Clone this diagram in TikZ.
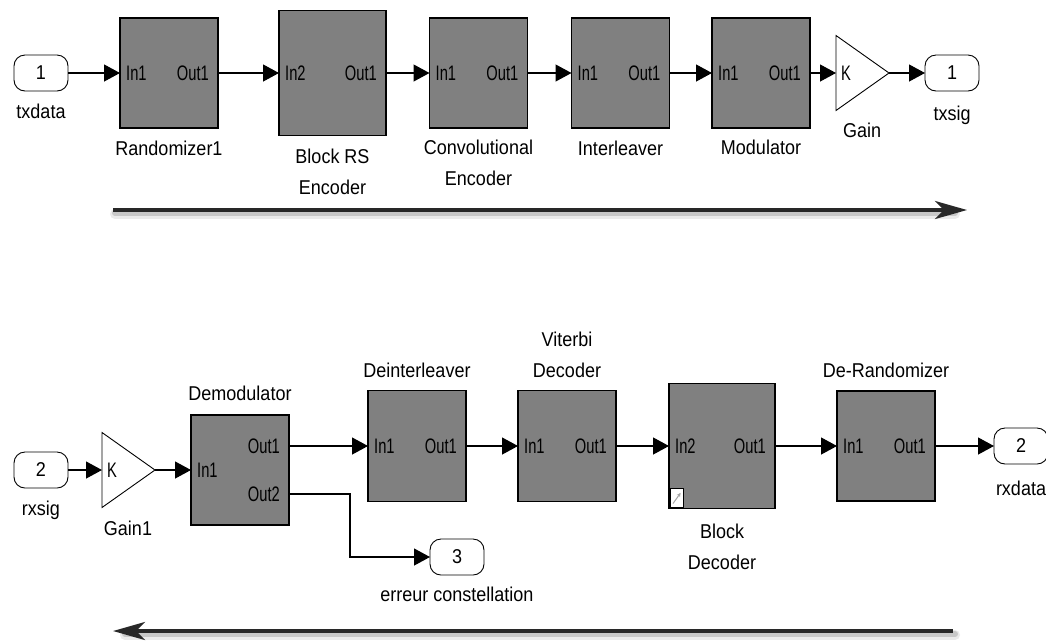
\documentclass[tikz,border=0pt]{standalone}
\usepackage{fontspec}
\setmainfont{Liberation Sans}
\newfontfamily\slimsans[FakeStretch=0.7]{Liberation Sans}
\newfontfamily\labsans[FakeStretch=0.9]{Liberation Sans}
\usetikzlibrary{positioning, arrows.meta, calc, shapes.geometric}
\definecolor{blockfill}{RGB}{128,128,128}
\definecolor{flowdark}{RGB}{40,40,40}
\definecolor{flowshade}{RGB}{200,200,200}

\begin{document}
\begin{tikzpicture}[x=1pt, y=-1pt,
  blk/.style={draw, line width=1.3pt, fill=blockfill, minimum width=98pt, minimum height=110pt, inner sep=0pt, outer sep=0pt},
  port/.style={draw, line width=0.9pt, fill=white, rounded corners=11pt, minimum width=54pt, minimum height=36pt, inner sep=0pt, outer sep=0pt, font=\labsans\fontsize{20}{22}\selectfont},
  gain/.style={draw, line width=0.9pt, fill=white, isosceles triangle, isosceles triangle stretches, minimum width=75pt, minimum height=53pt, inner sep=0pt, outer sep=0pt, anchor=west},
  pin/.style={font=\slimsans\fontsize{21}{22}\selectfont, inner sep=0pt},
  lab/.style={font=\labsans\fontsize{20}{31}\selectfont, align=center, inner sep=0pt},
  wire/.style={line width=1.2pt, -{Triangle[length=16pt, width=17pt]}},
  flow/.style={line width=3.8pt, draw=flowdark, -{Stealth[length=32pt, width=18pt, inset=9pt]}},
  flowsh/.style={draw=flowshade, line cap=round}]
\fill[white] (0,0) rectangle (1046,641);
\useasboundingbox (0,0) rectangle (1046,641);

% transmitter chain
\node[port] (txin) at (41,73) {1};
\node[lab, below=13pt of txin] (txinlab) {txdata};
\node[blk] (rand) at (169,73) {};
\node[pin, anchor=west] (randi) at ([xshift=6pt]rand.west) {In1};
\node[pin, anchor=east] (rando) at ([xshift=-9pt]rand.east) {Out1};
\node[lab, below=13pt of rand] (randlab) {Randomizer1};
\node[blk, minimum width=107pt, minimum height=125pt] (rsenc) at (332.5,73) {};
\node[pin, anchor=west] (rsenci) at ([xshift=6pt]rsenc.west) {In2};
\node[pin, anchor=east] (rsenco) at ([xshift=-9pt]rsenc.east) {Out1};
\node[lab, below=13pt of rsenc] (rsenclab) {Block RS\\Encoder};
\node[blk] (conv) at (478.5,73) {};
\node[pin, anchor=west] (convi) at ([xshift=6pt]conv.west) {In1};
\node[pin, anchor=east] (convo) at ([xshift=-9pt]conv.east) {Out1};
\node[lab, below=12pt of conv] (convlab) {Convolutional\\Encoder};
\node[blk] (intl) at (620.5,73) {};
\node[pin, anchor=west] (intli) at ([xshift=6pt]intl.west) {In1};
\node[pin, anchor=east] (intlo) at ([xshift=-9pt]intl.east) {Out1};
\node[lab, below=13pt of intl] (intllab) {Interleaver};
\node[blk] (mod) at (761,73) {};
\node[pin, anchor=west] (modi) at ([xshift=6pt]mod.west) {In1};
\node[pin, anchor=east] (modo) at ([xshift=-9pt]mod.east) {Out1};
\node[lab, below=12pt of mod] (modlab) {Modulator};
\node[gain] (gtx) at (836,73) {};
\node[pin, anchor=west] (gtxk) at ([xshift=5pt]gtx.west) {K};
\node[lab, anchor=north] (gtxlab) at (862,123) {Gain};
\node[port] (txout) at (952,73) {1};
\node[lab, below=15pt of txout] (txoutlab) {txsig};

\draw[wire] (txin.east) -- (rand.west);
\draw[wire] (rand.east) -- (rsenc.west);
\draw[wire] (rsenc.east) -- (conv.west);
\draw[wire] (conv.east) -- (intl.west);
\draw[wire] (intl.east) -- (mod.west);
\draw[wire] (mod.east) -- (gtx.west);
\draw[wire] (gtx.east) -- (txout.west);

% receiver chain
\node[port] (rxin) at (41,470) {2};
\node[lab, below=13pt of rxin] (rxinlab) {rxsig};
\node[gain] (grx) at (102,470) {};
\node[pin, anchor=west] (grxk) at ([xshift=5pt]grx.west) {K};
\node[lab, anchor=north] (grxlab) at (128,521) {Gain1};
\node[blk] (demod) at (240,470) {};
\node[pin, anchor=west] (demodi) at ([xshift=6pt]demod.west) {In1};
\node[pin, anchor=east] (demodo1) at ([xshift=-9pt, yshift=24pt]demod.east) {Out1};
\node[pin, anchor=east] (demodo2) at ([xshift=-9pt, yshift=-24pt]demod.east) {Out2};
\node[lab, above=14pt of demod] (demodlab) {Demodulator};
\node[blk, minimum height=111pt] (deint) at (417,446) {};
\node[pin, anchor=west] (deinti) at ([xshift=6pt]deint.west) {In1};
\node[pin, anchor=east] (deinto) at ([xshift=-9pt]deint.east) {Out1};
\node[lab, above=13pt of deint] (deintlab) {Deinterleaver};
\node[blk, minimum height=111pt] (vit) at (567,446) {};
\node[pin, anchor=west] (viti) at ([xshift=6pt]vit.west) {In1};
\node[pin, anchor=east] (vito) at ([xshift=-9pt]vit.east) {Out1};
\node[lab, above=13pt of vit] (vitlab) {Viterbi\\Decoder};
\node[blk, minimum width=106pt, minimum height=125pt] (bdec) at (722,446) {};
\node[pin, anchor=west] (bdeci) at ([xshift=6pt]bdec.west) {In2};
\node[pin, anchor=east] (bdeco) at ([xshift=-9pt]bdec.east) {Out1};
\node[draw, line width=0.6pt, fill=white, minimum width=13pt, minimum height=19pt, inner sep=0pt, anchor=south west] (bdecicon) at ([shift={(1,-1)}]bdec.south west) {};
\draw[black!35, line width=1pt, -{Stealth[length=4pt, width=4pt]}] ([shift={(3,-4)}]bdecicon.south west) -- ([shift={(-3,5)}]bdecicon.north east);
\node[lab, below=15pt of bdec] (bdeclab) {Block\\Decoder};
\node[blk] (derand) at (886,446) {};
\node[pin, anchor=west] (derandi) at ([xshift=6pt]derand.west) {In1};
\node[pin, anchor=east] (derando) at ([xshift=-9pt]derand.east) {Out1};
\node[lab, above=13pt of derand] (derandlab) {De-Randomizer};
\node[port] (rxout) at (1021,446) {2};
\node[lab, below=17pt of rxout] (rxoutlab) {rxdata};
\node[port] (err) at (457,557) {3};
\node[lab, below=12pt of err] (errlab) {erreur constellation};

\draw[wire] (rxin.east) -- (grx.west);
\draw[wire] (grx.east) -- (demod.west);
\draw[wire] ([yshift=24pt]demod.east) -- (deint.west);
\draw[wire] (deint.east) -- (vit.west);
\draw[wire] (vit.east) -- (bdec.west);
\draw[wire] (bdec.east) -- (derand.west);
\draw[wire] (derand.east) -- (rxout.west);
\draw[wire] ([yshift=-24pt]demod.east) -- ++(61,0) |- (err.west);

% direction of flow
\coordinate (fwdS) at (113,210);
\coordinate (fwdE) at (967,210);
\coordinate (bwdS) at (953,631);
\coordinate (bwdE) at (113,631);
\draw[flowsh, line width=10pt, draw opacity=0.35] ([shift={(2,4)}]fwdS) -- ([shift={(-12,4)}]fwdE);
\draw[flowsh, line width=6pt] ([shift={(2,3)}]fwdS) -- ([shift={(-12,3)}]fwdE);
\draw[flow] (fwdS) -- (fwdE);
\draw[flowsh, line width=10pt, draw opacity=0.35] ([shift={(2,4)}]bwdS) -- ([shift={(12,4)}]bwdE);
\draw[flowsh, line width=6pt] ([shift={(2,3)}]bwdS) -- ([shift={(12,3)}]bwdE);
\draw[flow] (bwdS) -- (bwdE);
\end{tikzpicture}
\end{document}
